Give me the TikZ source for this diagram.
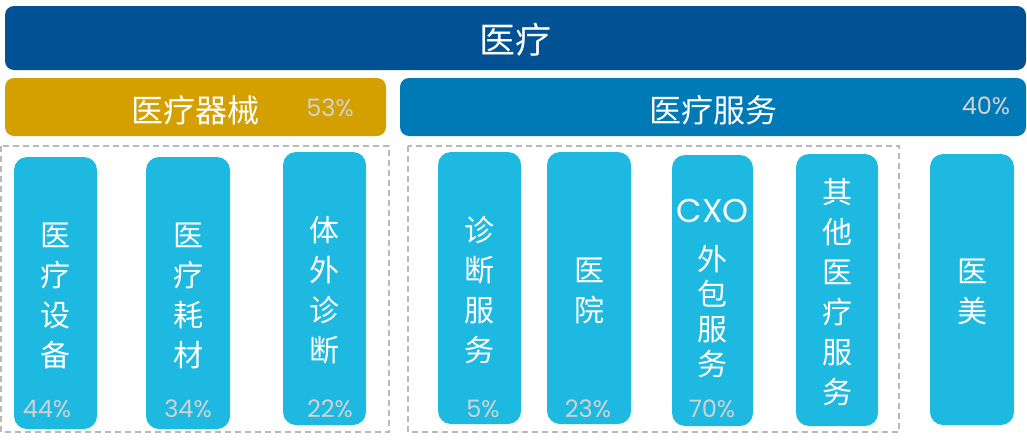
\documentclass[tikz,border=0pt]{standalone}
\usepackage{fontspec}
\newfontfamily\cjk{Noto Sans CJK SC}
\newfontfamily\pctfont{Poppins}
\definecolor{darkblue}{RGB}{0,82,149}
\definecolor{gold}{RGB}{212,160,0}
\definecolor{midblue}{RGB}{0,122,182}
\definecolor{itemblue}{RGB}{30,185,225}
\definecolor{pctgray}{RGB}{210,210,210}
\definecolor{dashgray}{RGB}{185,185,185}
\tikzset{
  bar/.style={rounded corners=9pt, inner sep=0pt},
  item/.style={fill=itemblue, rounded corners=13pt, inner sep=0pt},
  group/.style={draw=dashgray, line width=2.5pt, dash pattern=on 6pt off 4pt},
  vtext/.style={text=white, align=center, inner sep=0pt, font=\cjk\fontsize{30}{40}\selectfont},
  pct/.style={text=pctgray, inner sep=0pt, anchor=base, font=\pctfont\fontsize{24}{24}\selectfont},
}
\begin{document}
\begin{tikzpicture}[x=1pt, y=-1pt]
    \useasboundingbox (0,0) rectangle (1027,439);

    % bars
    \node [bar, fill=darkblue, minimum width=1021pt, minimum height=64pt] (top) at (515.5,38) {};
    \node [bar, fill=gold, minimum width=381pt, minimum height=58pt] (device) at (195.5,107) {};
    \node [bar, fill=midblue, minimum width=626pt, minimum height=58pt] (service) at (713,107) {};
    \node [text=white, font=\cjk\fontsize{36}{36}\selectfont] (toplbl) at ([yshift=-2pt]top.center) {医疗};
    \node [text=white, font=\cjk\fontsize{32}{32}\selectfont] (devlbl) at ([yshift=-3pt]device.center) {医疗器械};
    \node [text=white, font=\cjk\fontsize{32}{32}\selectfont] (svclbl) at ([yshift=-3pt]service.center) {医疗服务};
    \node [pct, anchor=center] (devpct) at (330,108) {53\%};
    \node [pct, anchor=center] (svcpct) at (986,106) {40\%};

    % groups
    \draw [group] (1,146) rectangle (389,432);
    \draw [group] (408,146) rectangle (899,432);

    % items
    \foreach \n/\x/\y/\w/\h in {equip/55.5/293/83/272, consum/188/293/84/272,
        ivd/324.5/288.5/83/273, diag/479.5/288/83/272, hosp/589/288/84/272,
        cxo/712.5/290.5/81/271, other/837/290/82/272, aesth/972/289.5/84/271} {
      \node [item, minimum width=\w pt, minimum height=\h pt] (\n) at (\x,\y) {};
    }

    % labels
    \node [vtext] (equiplbl) at ([yshift=-3pt]equip.center) {医\\疗\\设\\备};
    \node [vtext] (consumlbl) at ([yshift=-3pt]consum.center) {医\\疗\\耗\\材};
    \node [vtext] (ivdlbl) at ([yshift=-2pt]ivd.center) {体\\外\\诊\\断};
    \node [vtext] (diaglbl) at ([yshift=-2pt]diag.center) {诊\\断\\服\\务};
    \node [vtext] (hosplbl) at ([yshift=-3pt]hosp.center) {医\\院};
    \node [text=white, inner sep=0pt, font=\pctfont\fontsize{33}{33}\selectfont] (cxotop) at (712.5,211) {CXO};
    \node [vtext, font=\cjk\fontsize{30}{35}\selectfont] (cxolbl) at (712.5,312) {外\\包\\服\\务};
    \node [vtext] (otherlbl) at ([yshift=-2pt]other.center) {其\\他\\医\\疗\\服\\务};
    \node [vtext] (aesthlbl) at ([yshift=-2pt]aesth.center) {医\\美};

    % shares
    \node [pct] (equippct) at (47,417) {44\%};
    \node [pct] (consumpct) at (188,417) {34\%};
    \node [pct] (ivdpct) at (330,417) {22\%};
    \node [pct] (diagpct) at (483,417) {5\%};
    \node [pct] (hosppct) at (588,417) {23\%};
    \node [pct] (cxopct) at (712,417) {70\%};
\end{tikzpicture}
\end{document}
